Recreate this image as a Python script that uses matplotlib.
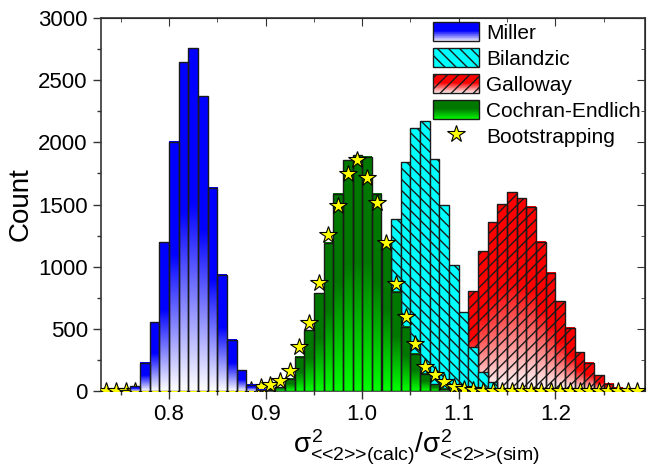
import numpy as np
import matplotlib
matplotlib.use("Agg")
import matplotlib.pyplot as plt
from matplotlib.colors import LinearSegmentedColormap
from matplotlib.patches import Rectangle
from matplotlib.legend_handler import HandlerBase
from matplotlib.ticker import MultipleLocator

plt.rcParams['font.family'] = 'Liberation Sans'
plt.rcParams['mathtext.fontset'] = 'custom'
plt.rcParams['mathtext.rm'] = 'Liberation Sans'
plt.rcParams['mathtext.it'] = 'Liberation Sans'
plt.rcParams['hatch.linewidth'] = 1.0

BIN = 0.01
EDGE = '#1a1a1a'

# bin centres and counts
miller_x = [0.755, 0.765, 0.775, 0.785, 0.795, 0.805, 0.815, 0.825, 0.835,
            0.845, 0.855, 0.865, 0.875, 0.885, 0.895]
miller_y = [5, 40, 227, 551, 1195, 2006, 2644, 2757, 2371,
            1633, 933, 411, 168, 52, 10]

bilandzic_x = [0.975, 0.985, 0.995, 1.005, 1.015, 1.025, 1.035, 1.045, 1.055,
               1.065, 1.075, 1.085, 1.095, 1.105, 1.115, 1.125, 1.135, 1.145, 1.155]
bilandzic_y = [15, 50, 130, 300, 560, 900, 1383, 1843, 2113,
               2172, 1864, 1496, 1010, 637, 355, 152, 71, 20, 5]

galloway_x = [1.065, 1.075, 1.085, 1.095, 1.105, 1.115, 1.125, 1.135, 1.145,
              1.155, 1.165, 1.175, 1.185, 1.195, 1.205, 1.215, 1.225, 1.235,
              1.245, 1.255, 1.265, 1.275]
galloway_y = [20, 60, 140, 300, 520, 801, 1126, 1356, 1504,
              1599, 1551, 1483, 1199, 950, 720, 509, 310, 226,
              126, 60, 25, 8]

cochran_x = [0.885, 0.895, 0.905, 0.915, 0.925, 0.935, 0.945, 0.955, 0.965,
             0.975, 0.985, 0.995, 1.005, 1.015, 1.025, 1.035, 1.045, 1.055,
             1.065, 1.075, 1.085, 1.095]
cochran_y = [3, 8, 12, 30, 100, 275, 490, 788, 1193,
             1585, 1855, 1895, 1885, 1585, 1193, 800, 517, 300,
             140, 55, 20, 5]

boot_x = [0.735, 0.745, 0.755, 0.765, 0.775, 0.785, 0.795, 0.805, 0.815, 0.825,
          0.835, 0.845, 0.855, 0.865, 0.875, 0.885, 0.895, 0.905, 0.915, 0.925,
          0.935, 0.945, 0.955, 0.965, 0.975, 0.985, 0.995, 1.005, 1.015, 1.025,
          1.035, 1.045, 1.055, 1.065, 1.075, 1.085, 1.095, 1.105, 1.115, 1.125,
          1.135, 1.145, 1.155, 1.165, 1.175, 1.185, 1.195, 1.205, 1.215, 1.225,
          1.235, 1.245, 1.255, 1.265, 1.275, 1.285]
boot_y = [0, 0, 0, 0, 0, 0, 0, 0, 0, 0,
          0, 0, 0, 0, 0, 5, 35, 50, 80, 163,
          350, 545, 870, 1253, 1488, 1748, 1858, 1710, 1516, 1190,
          862, 597, 375, 195, 126, 71, 36, 20, 10, 0,
          0, 0, 0, 0, 0, 0, 0, 0, 0, 0,
          0, 0, 0, 0, 0, 0]


def fade_cmap(top, bottom):
    return LinearSegmentedColormap.from_list('', [(0, bottom), (0.55, top), (1, top)])


blue_cm = fade_cmap('#0000ff', '#ffffff')
red_cm = fade_cmap('#ff0000', '#ffffff')
green_cm = fade_cmap('#007800', '#00ff00')
grad = np.linspace(0, 1, 128).reshape(-1, 1)


def grad_bars(ax, x, h, cmap, z, hatch=None):
    for xi, hi in zip(x, h):
        if hi <= 0:
            continue
        ax.imshow(grad, extent=(xi - BIN / 2, xi + BIN / 2, 0, hi), origin='lower',
                  cmap=cmap, aspect='auto', interpolation='bilinear', zorder=z)
    ax.bar(x, h, width=BIN, fill=False, edgecolor=EDGE, linewidth=1,
           hatch=hatch, zorder=z + 0.1)


class GradHandler(HandlerBase):
    def __init__(self, cmap=None, color=None, hatch=None):
        super().__init__()
        self.cmap, self.color, self.hatch = cmap, color, hatch

    def create_artists(self, legend, orig_handle, xdescent, ydescent,
                       width, height, fontsize, trans):
        arts = []
        if self.cmap is not None:
            n = 30
            for i in range(n):
                c = self.cmap((i + 0.5) / n)
                arts.append(Rectangle((-xdescent, -ydescent + i * height / n), width,
                                      height / n + 0.01, facecolor=c, edgecolor='none',
                                      transform=trans))
        else:
            arts.append(Rectangle((-xdescent, -ydescent), width, height,
                                  facecolor=self.color, edgecolor='none', transform=trans))
        arts.append(Rectangle((-xdescent, -ydescent), width, height, fill=False,
                              edgecolor=EDGE, linewidth=1, hatch=self.hatch, transform=trans))
        return arts


fig = plt.figure(figsize=(6.7, 4.68), dpi=100)
ax = fig.add_axes([101 / 670, 1 - 391 / 468, 544 / 670, 373 / 468])

grad_bars(ax, galloway_x, galloway_y, red_cm, 1, hatch='///')
ax.bar(bilandzic_x, bilandzic_y, width=BIN, color='#00ffff', edgecolor=EDGE,
       linewidth=1, hatch='\\\\\\', zorder=2)
grad_bars(ax, cochran_x, cochran_y, green_cm, 3)
ax.plot(boot_x, boot_y, linestyle='none', marker='*', ms=13, mfc='#ffff00',
        mec='k', mew=0.8, zorder=4)
grad_bars(ax, miller_x, miller_y, blue_cm, 5)

ax.set_xlim(0.7296, 1.2928)
ax.set_ylim(0, 3000)
ax.xaxis.set_major_locator(MultipleLocator(0.1))
ax.xaxis.set_minor_locator(MultipleLocator(0.05))
ax.yaxis.set_major_locator(MultipleLocator(500))
ax.yaxis.set_minor_locator(MultipleLocator(250))
ax.tick_params(which='both', direction='out', labelsize=16, color='#333333', width=1)
ax.tick_params(which='major', length=6)
ax.tick_params(which='minor', length=3)
for s in ax.spines.values():
    s.set_color('#333333')
    s.set_linewidth(1.2)

top = ax.secondary_xaxis('top')
top.xaxis.set_major_locator(MultipleLocator(0.1))
top.xaxis.set_minor_locator(MultipleLocator(0.05))
top.tick_params(which='both', direction='in', labeltop=False, color='#333333')
top.tick_params(which='major', length=6)
top.tick_params(which='minor', length=3)
right = ax.secondary_yaxis('right')
right.yaxis.set_major_locator(MultipleLocator(500))
right.yaxis.set_minor_locator(MultipleLocator(250))
right.tick_params(which='both', direction='in', labelright=False, color='#333333')
right.tick_params(which='major', length=6)
right.tick_params(which='minor', length=3)

ax.set_ylabel('Count', fontsize=20, labelpad=3)
ax.set_xlabel(r'$σ^2_{\text{<<2>>(calc)}}/σ^2_{\text{<<2>>(sim)}}$', fontsize=20, labelpad=2)
ax.xaxis.label.set_x(0.58)

proxies = [Rectangle((0, 0), 1, 1) for _ in range(4)]
star, = ax.plot([], [], linestyle='none', marker='*', ms=13, mfc='#ffff00', mec='k', mew=0.8)
handlers = {
    proxies[0]: GradHandler(cmap=blue_cm),
    proxies[1]: GradHandler(color='#00ffff', hatch='\\\\\\'),
    proxies[2]: GradHandler(cmap=red_cm, hatch='///'),
    proxies[3]: GradHandler(cmap=green_cm),
}
leg = ax.legend(proxies + [star],
                ['Miller', 'Bilandzic', 'Galloway', 'Cochran-Endlich', 'Bootstrapping'],
                handler_map=handlers, loc='upper right', bbox_to_anchor=(1.0, 1.0),
                frameon=False, fontsize=15, handlelength=2.2, handleheight=1.05,
                labelspacing=0.25, handletextpad=0.35, borderaxespad=0.1, borderpad=0.1)
leg.set_zorder(10)

fig.savefig('out.png', dpi=100)
